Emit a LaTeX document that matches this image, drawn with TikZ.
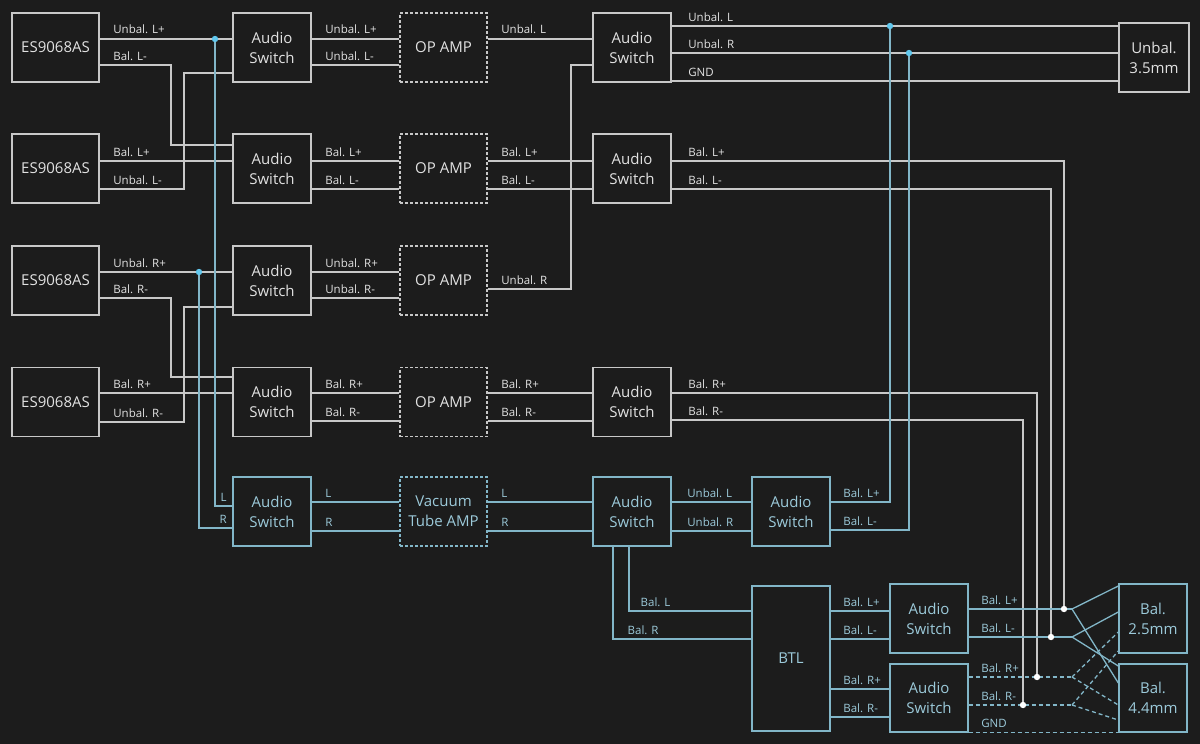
\documentclass[tikz,border=0pt]{standalone}
\usepackage{fontspec}
\setmainfont{Open Sans}
\usepackage{tikz}
\definecolor{bgcol}{HTML}{1C1C1C}
\definecolor{wirecol}{HTML}{C8C8C8}
\definecolor{textcol}{HTML}{E2E2E2}
\definecolor{tubecol}{HTML}{82B6C8}
\definecolor{tubetext}{HTML}{9CCADA}
\definecolor{dotcol}{HTML}{62C8EE}

\begin{document}
\begin{tikzpicture}[x=1pt,y=-1pt,
  box/.style={draw=wirecol,line width=1.4pt,fill=bgcol,text=textcol,inner sep=0pt,align=center,
    font=\fontsize{15}{20}\selectfont,minimum height=69pt},
  chip/.style={box,minimum width=87pt},
  sw/.style={box,minimum width=78pt},
  amp/.style={box,minimum width=87pt,dash pattern=on 3pt off 2pt},
  tsw/.style={sw,draw=tubecol,text=tubetext},
  tamp/.style={amp,draw=tubecol,text=tubetext},
  wire/.style={draw=wirecol,line width=1.3pt},
  tube/.style={draw=tubecol,line width=1.3pt},
  dsh/.style={dash pattern=on 4pt off 3pt},
  lbl/.style={anchor=base west,xshift=13pt,yshift=5pt,inner sep=0pt,text=textcol,font=\fontsize{11.5}{13}\selectfont},
  tlbl/.style={lbl,text=tubetext},
  tin/.style={pos=1,anchor=base east,xshift=-5pt,yshift=5pt,inner sep=0pt,text=tubetext,font=\fontsize{11.5}{13}\selectfont}]
\fill[bgcol] (0,0) rectangle (1200,744);
\useasboundingbox (0,0) rectangle (1200,744);

\node[chip] (es1) at (55.5,47.5) {ES9068AS};
\node[chip] (es2) at (55.5,168.5) {ES9068AS};
\node[chip] (es3) at (55.5,280.5) {ES9068AS};
\node[chip] (es4) at (55.5,402) {ES9068AS};
\node[sw] (sw1) at (272,47.5) {Audio\\Switch};
\node[sw] (sw2) at (272,168.5) {Audio\\Switch};
\node[sw] (sw3) at (272,280.5) {Audio\\Switch};
\node[sw] (sw4) at (272,402) {Audio\\Switch};
\node[amp] (amp1) at (443.5,47.5) {OP AMP};
\node[amp] (amp2) at (443.5,168.5) {OP AMP};
\node[amp] (amp3) at (443.5,280.5) {OP AMP};
\node[amp] (amp4) at (443.5,402) {OP AMP};
\node[sw] (sw31) at (632,47.5) {Audio\\Switch};
\node[sw] (sw32) at (632,168.5) {Audio\\Switch};
\node[sw] (sw34) at (632,402) {Audio\\Switch};
\node[box,minimum width=70pt] (jack35) at (1154,57.5) {Unbal.\\3.5mm};

\node[tsw] (sw5) at (272,511.5) {Audio\\Switch};
\node[tamp] (tubeamp) at (443.5,511.5) {Vacuum\\Tube AMP};
\node[tsw] (sw6) at (632,511.5) {Audio\\Switch};
\node[tsw] (sw7) at (791,511.5) {Audio\\Switch};
\node[tsw,minimum height=145pt] (btl) at (791,658.5) {BTL};
\node[tsw] (sw8) at (929,618.5) {Audio\\Switch};
\node[tsw,minimum height=68pt] (sw9) at (929,698) {Audio\\Switch};
\node[tsw,minimum width=68pt] (jack25) at (1153,618.5) {Bal.\\2.5mm};
\node[tsw,minimum width=68pt,minimum height=68pt] (jack44) at (1153,698) {Bal.\\4.4mm};

\coordinate (jl) at (215,39);
\coordinate (jr) at (199,272);
\coordinate (ul) at (890,26);
\coordinate (ur) at (909,53);
\coordinate (d1) at (1064,609);
\coordinate (d2) at (1051,637);
\coordinate (d3) at (1037,677);
\coordinate (d4) at (1023,705);
\coordinate (f1) at (1072,609);
\coordinate (f2) at (1072,637);
\coordinate (f3) at (1072,677);
\coordinate (f4) at (1072,705);

\draw[wire] (es1.east|-0,39) -- node[lbl,at start]{Unbal. L+} (sw1.west|-0,39);
\draw[wire] (es1.east|-0,65) -- node[lbl,at start]{Bal. L-} (171,65) |- (sw2.west|-0,145);
\draw[wire] (es2.east|-0,161) -- node[lbl,at start]{Bal. L+} (sw2.west|-0,161);
\draw[wire] (es2.east|-0,189) -- node[lbl,at start]{Unbal. L-} (184,189) |- (sw1.west|-0,73);
\draw[wire] (es3.east|-0,272) -- node[lbl,at start]{Unbal. R+} (sw3.west|-0,272);
\draw[wire] (es3.east|-0,298) -- node[lbl,at start]{Bal. R-} (171,298) |- (sw4.west|-0,377);
\draw[wire] (es4.east|-0,393) -- node[lbl,at start]{Bal. R+} (sw4.west|-0,393);
\draw[wire] (es4.east|-0,422) -- node[lbl,at start]{Unbal. R-} (184,422) |- (sw3.west|-0,307);

\draw[wire] (sw1.east|-0,39) -- node[lbl,at start]{Unbal. L+} (amp1.west|-0,39);
\draw[wire] (sw1.east|-0,65) -- node[lbl,at start]{Unbal. L-} (amp1.west|-0,65);
\draw[wire] (sw2.east|-0,161) -- node[lbl,at start]{Bal. L+} (amp2.west|-0,161);
\draw[wire] (sw2.east|-0,189) -- node[lbl,at start]{Bal. L-} (amp2.west|-0,189);
\draw[wire] (sw3.east|-0,272) -- node[lbl,at start]{Unbal. R+} (amp3.west|-0,272);
\draw[wire] (sw3.east|-0,298) -- node[lbl,at start]{Unbal. R-} (amp3.west|-0,298);
\draw[wire] (sw4.east|-0,393) -- node[lbl,at start]{Bal. R+} (amp4.west|-0,393);
\draw[wire] (sw4.east|-0,421) -- node[lbl,at start]{Bal. R-} (amp4.west|-0,421);

\draw[wire] (amp1.east|-0,39) -- node[lbl,at start]{Unbal. L} (sw31.west|-0,39);
\draw[wire] (amp3.east|-0,289) -- node[lbl,at start]{Unbal. R} (571,289) |- (sw31.west|-0,65);
\draw[wire] (amp2.east|-0,161) -- node[lbl,at start]{Bal. L+} (sw32.west|-0,161);
\draw[wire] (amp2.east|-0,189) -- node[lbl,at start]{Bal. L-} (sw32.west|-0,189);
\draw[wire] (amp4.east|-0,393) -- node[lbl,at start]{Bal. R+} (sw34.west|-0,393);
\draw[wire] (amp4.east|-0,421) -- node[lbl,at start]{Bal. R-} (sw34.west|-0,421);

\draw[wire] (sw31.east|-0,26) -- node[lbl,at start,xshift=3pt]{Unbal. L} (jack35.west|-0,26);
\draw[wire] (sw31.east|-0,53) -- node[lbl,at start,xshift=3pt]{Unbal. R} (jack35.west|-0,53);
\draw[wire] (sw31.east|-0,81) -- node[lbl,at start,xshift=3pt]{GND} (jack35.west|-0,81);
\draw[wire] (sw32.east|-0,161) -- node[lbl,at start,xshift=3pt]{Bal. L+} (d1|-0,161) -- (d1);
\draw[wire] (sw32.east|-0,189) -- node[lbl,at start,xshift=3pt]{Bal. L-} (d2|-0,189) -- (d2);
\draw[wire] (sw34.east|-0,393) -- node[lbl,at start,xshift=3pt]{Bal. R+} (d3|-0,393) -- (d3);
\draw[wire] (sw34.east|-0,420) -- node[lbl,at start,xshift=3pt]{Bal. R-} (d4|-0,420) -- (d4);

\draw[tube] (jl) |- node[tin]{L} (sw5.west|-0,506);
\draw[tube] (jr) |- node[tin]{R} (sw5.west|-0,528);
\draw[tube] (sw5.east|-0,502) -- node[tlbl,at start]{L} (tubeamp.west|-0,502);
\draw[tube] (sw5.east|-0,531) -- node[tlbl,at start]{R} (tubeamp.west|-0,531);
\draw[tube] (tubeamp.east|-0,502) -- node[tlbl,at start]{L} (sw6.west|-0,502);
\draw[tube] (tubeamp.east|-0,531) -- node[tlbl,at start]{R} (sw6.west|-0,531);
\draw[tube] (sw6.east|-0,502) -- node[tlbl,at start,xshift=2pt]{Unbal. L} (sw7.west|-0,502);
\draw[tube] (sw6.east|-0,531) -- node[tlbl,at start,xshift=2pt]{Unbal. R} (sw7.west|-0,531);
\draw[tube] (sw7.east|-0,502) -- node[tlbl,at start,xshift=-1pt]{Bal. L+} (ul|-0,502) -- (ul);
\draw[tube] (sw7.east|-0,530) -- node[tlbl,at start,xshift=-1pt]{Bal. L-} (ur|-0,530) -- (ur);

\draw[tube] (sw6.south-|629,0) |- node[tlbl,pos=.5,xshift=-2pt]{Bal. L} (btl.west|-0,611);
\draw[tube] (sw6.south-|613,0) |- node[tlbl,pos=.5,xshift=1pt]{Bal. R} (btl.west|-0,639);
\draw[tube] (btl.east|-0,611) -- node[tlbl,at start,xshift=-1pt]{Bal. L+} (sw8.west|-0,611);
\draw[tube] (btl.east|-0,639) -- node[tlbl,at start,xshift=-1pt]{Bal. L-} (sw8.west|-0,639);
\draw[tube] (btl.east|-0,689) -- node[tlbl,at start,xshift=-1pt]{Bal. R+} (sw9.west|-0,689);
\draw[tube] (btl.east|-0,717) -- node[tlbl,at start,xshift=-1pt]{Bal. R-} (sw9.west|-0,717);

\draw[tube] (sw8.east|-0,609) -- node[tlbl,at start,xshift=-1pt]{Bal. L+} (f1);
\draw[tube] (sw8.east|-0,637) -- node[tlbl,at start,xshift=-1pt]{Bal. L-} (f2);
\draw[tube,dsh] (sw9.east|-0,677) -- node[tlbl,at start,xshift=-1pt]{Bal. R+} (f3);
\draw[tube,dsh] (sw9.east|-0,705) -- node[tlbl,at start,xshift=-1pt]{Bal. R-} (f4);
\draw[tube,dsh] (sw9.south east) -- node[tlbl,at start,xshift=-1pt]{GND} (jack44.south west);

\draw[tube] (f1) -- (jack25.west|-0,586);
\draw[tube] (f1) -- (jack44.west|-0,683);
\draw[tube] (f2) -- (jack25.west|-0,612);
\draw[tube] (f2) -- (jack44.west|-0,666);
\draw[tube,dsh] (f3) -- (jack25.west|-0,632);
\draw[tube,dsh] (f3) -- (jack44.west|-0,705);
\draw[tube,dsh] (f4) -- (jack25.west|-0,651);
\draw[tube,dsh] (f4) -- (jack44.west|-0,720);

\fill[dotcol] (jl) circle (3.2pt);
\fill[dotcol] (jr) circle (3.2pt);
\fill[dotcol] (ul) circle (3.2pt);
\fill[dotcol] (ur) circle (3.2pt);
\fill[white] (d1) circle (3.2pt);
\fill[white] (d2) circle (3.2pt);
\fill[white] (d3) circle (3.2pt);
\fill[white] (d4) circle (3.2pt);
\end{tikzpicture}
\end{document}
